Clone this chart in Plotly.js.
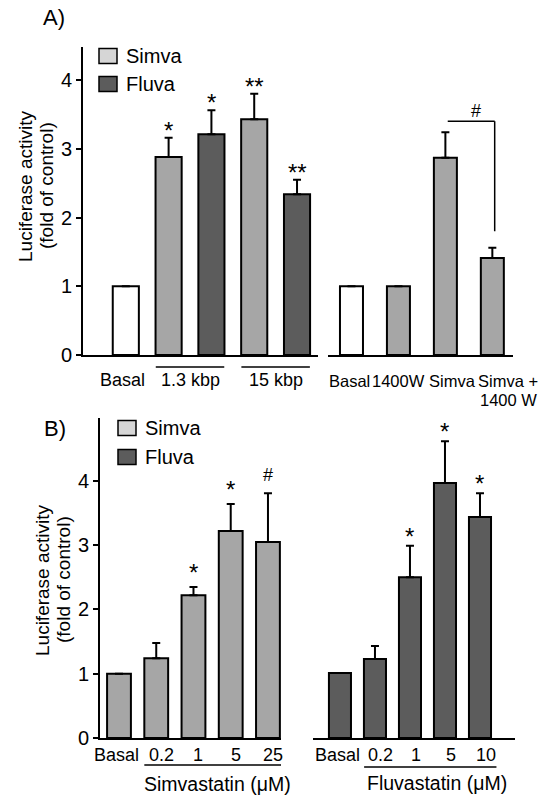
<!DOCTYPE html>
<html><head><meta charset="utf-8">
<script src="https://cdn.plot.ly/plotly-3.0.1.min.js"></script>
<style>html,body{margin:0;padding:0;background:#fff}</style>
</head><body><div id="chart" style="width:542px;height:797px"></div>
<script>
// ---------- data ----------
const aLeftCats = ["Basal", "1.3 kbp Simva", "1.3 kbp Fluva", "15 kbp Simva", "15 kbp Fluva"];
const aBasalCats = ["Basal"];
const aBasalVals = [1.0];
const aSimvaCats = ["1.3 kbp Simva", "15 kbp Simva"];
const aSimvaVals = [2.88, 3.43];
const aSimvaErr = [0.28, 0.37];
const aSimvaMarks = ["*", "**"];
const aFluvaCats = ["1.3 kbp Fluva", "15 kbp Fluva"];
const aFluvaVals = [3.21, 2.34];
const aFluvaErr = [0.35, 0.21];
const aFluvaMarks = ["*", "**"];
const aGroupLabels = ["Basal", "1.3 kbp", "15 kbp"];
const aGroupPos = [0, 1.5, 3.5];

const aRightCats = ["Basal", "1400W", "Simva", "Simva + 1400 W"];
const aRightVals = [1.0, 1.0, 2.87, 1.41];
const aRightErr = [0, 0, 0.37, 0.15];
const aRightLabels = ["Basal", "1400W", "Simva", "Simva +"];

const bSimCats = ["Basal", "0.2", "1", "5", "25"];
const bSimVals = [1.0, 1.24, 2.22, 3.22, 3.05];
const bSimErr = [0, 0.24, 0.13, 0.42, 0.76];
const bSimMarks = ["", "", "*", "*", "#"];

const bFluCats = ["Basal", "0.2", "1", "5", "10"];
const bFluVals = [1.01, 1.23, 2.50, 3.97, 3.44];
const bFluErr = [0, 0.20, 0.49, 0.65, 0.37];
const bFluMarks = ["", "", "*", "*", "*"];

const yTicks = [0, 1, 2, 3, 4];

// ---------- style ----------
const FONT = "Liberation Sans, Arial, sans-serif";
const SIMVA = "#a6a6a6", FLUVA = "#5c5c5c", LEG_SIMVA = "#d6d6d6";
const W = 542, H = 797;
const px = x => x / W, py = y => 1 - y / H;

function bars(x, y, err, color, xa, ya, width) {
  return {
    type: "bar", x: x, y: y, xaxis: xa, yaxis: ya, width: width,
    marker: {color: color, line: {color: "#000", width: 2}},
    error_y: {type: "data", symmetric: false, array: err, arrayminus: err.map(() => 0),
              color: "#000", thickness: 2, width: 4},
    showlegend: false, hoverinfo: "skip"
  };
}

const traces = [
  bars(aBasalCats, aBasalVals, [0], "#ffffff", "x", "y", 0.61),
  bars(aSimvaCats, aSimvaVals, aSimvaErr, SIMVA, "x", "y", 0.61),
  bars(aFluvaCats, aFluvaVals, aFluvaErr, FLUVA, "x", "y", 0.61),
  bars(aRightCats.slice(0, 1), aRightVals.slice(0, 1), aRightErr.slice(0, 1), "#ffffff", "x2", "y2", 0.49),
  bars(aRightCats.slice(1), aRightVals.slice(1), aRightErr.slice(1), SIMVA, "x2", "y2", 0.49),
  bars(bSimCats, bSimVals, bSimErr, SIMVA, "x3", "y3", 0.64),
  bars(bFluCats, bFluVals, bFluErr, FLUVA, "x4", "y4", 0.63)
];

const ann = [];
const shapes = [];
function txt(text, x, y, opts) {
  ann.push(Object.assign({text: text, x: x, y: y, xref: "paper", yref: "paper", showarrow: false,
    font: {family: FONT, size: 18, color: "#000"}, xanchor: "center", yanchor: "middle"}, opts || {}));
}
function marks(allCats, cats, vals, errs, labels, xr, yr, lift) {
  labels.forEach((m, i) => {
    if (!m) return;
    ann.push({text: m, x: allCats.indexOf(cats[i]), y: vals[i] + errs[i], xref: xr, yref: yr, showarrow: false,
      xanchor: "center", yanchor: "bottom", yshift: (m === "#" ? -1 : -8) + lift,
      font: {family: FONT, size: m === "#" ? 18 : 24, color: "#000"}});
  });
}

// panel labels
txt("A)", px(54), py(17), {font: {family: FONT, size: 22, color: "#000"}});
txt("B)", px(55), py(428), {font: {family: FONT, size: 22, color: "#000"}});
// y titles
[[25, 46, 186], [42, 63, 580]].forEach(([x1, x2, yc]) => {
  txt("Luciferase activity", px(x1), py(yc), {textangle: -90, font: {family: FONT, size: 19, color: "#000"}});
  txt("(fold of control)", px(x2), py(yc), {textangle: -90, font: {family: FONT, size: 19, color: "#000"}});
});
// legends
function legend(x0, ys, names, colors) {
  names.forEach((n, i) => {
    shapes.push({type: "rect", xref: "paper", yref: "paper", x0: px(x0), x1: px(x0 + 18),
      y0: py(ys[i] + 7.5), y1: py(ys[i] - 7.5), fillcolor: colors[i], line: {color: "#000", width: 1.5}});
    txt(n, px(x0 + 25), py(ys[i]), {xanchor: "left", font: {family: FONT, size: 20, color: "#000"}});
  });
}
legend(99, [56, 84], ["Simva", "Fluva"], [LEG_SIMVA, FLUVA]);
legend(118, [428, 457], ["Simva", "Fluva"], [LEG_SIMVA, FLUVA]);

// stars
marks(aLeftCats, aSimvaCats, aSimvaVals, aSimvaErr, aSimvaMarks, "x", "y", 0);
marks(aLeftCats, aFluvaCats, aFluvaVals, aFluvaErr, aFluvaMarks, "x", "y", 0);
marks(bSimCats, bSimCats, bSimVals, bSimErr, bSimMarks, "x3", "y3", 7);
marks(bFluCats, bFluCats, bFluVals, bFluErr, bFluMarks, "x4", "y4", 2);

// panel A left x labels + underlines
aGroupLabels.forEach((g, i) => {
  ann.push({text: g, x: aGroupPos[i], y: py(380), xref: "x", yref: "paper", showarrow: false,
    xanchor: "center", yanchor: "middle", xshift: i === 0 ? -3 : 0, font: {family: FONT, size: 18, color: "#000"}});
});
[[0.7, 2.3], [2.7, 4.3]].forEach(([a, b]) => {
  shapes.push({type: "line", xref: "x", yref: "paper", x0: a, x1: b, y0: py(367), y1: py(367),
    line: {color: "#000", width: 1.5}});
});
// panel A right labels
aRightLabels.forEach((l, i) => {
  ann.push({text: l, x: i, y: py(381), xref: "x2", yref: "paper", showarrow: false,
    xanchor: "center", yanchor: "middle", xshift: [-2, 0, 7, 16][i],
    font: {family: FONT, size: 16.5, color: "#000"}});
});
ann.push({text: "1400 W", x: 3, y: py(400), xref: "x2", yref: "paper", showarrow: false,
  xanchor: "center", yanchor: "middle", xshift: 16, font: {family: FONT, size: 16.5, color: "#000"}});
// bracket #
const brY = aRightVals[2] + aRightErr[2] + 0.16;
shapes.push({type: "line", xref: "x2", yref: "y2", x0: 2.05, x1: 3.05, y0: brY, y1: brY, line: {color: "#000", width: 1.5}});
shapes.push({type: "line", xref: "x2", yref: "y2", x0: 3.05, x1: 3.05, y0: brY, y1: aRightVals[3] + aRightErr[3] + 0.24, line: {color: "#000", width: 1.5}});
ann.push({text: "#", x: 2.65, y: brY, xref: "x2", yref: "y2", showarrow: false, xanchor: "center",
  yanchor: "bottom", yshift: -2, font: {family: FONT, size: 18, color: "#000"}});

// panel B labels
bSimCats.forEach((c, i) => {
  ann.push({text: c, x: i, y: py(755), xref: "x3", yref: "paper", showarrow: false, xanchor: "center",
    yanchor: "middle", xshift: i === 0 ? -2 : 5, font: {family: FONT, size: 18, color: "#000"}});
});
bFluCats.forEach((c, i) => {
  ann.push({text: c, x: i, y: py(755), xref: "x4", yref: "paper", showarrow: false, xanchor: "center",
    yanchor: "middle", xshift: i === 0 ? -2 : 6, font: {family: FONT, size: 18, color: "#000"}});
});
shapes.push({type: "line", xref: "x3", yref: "paper", x0: 0.68, x1: 4.37, y0: py(765), y1: py(765), line: {color: "#000", width: 1.5}});
shapes.push({type: "line", xref: "x4", yref: "paper", x0: 0.69, x1: 4.47, y0: py(767), y1: py(767), line: {color: "#000", width: 1.5}});
ann.push({text: "Simvastatin (μM)", x: 2.5, y: py(784), xref: "x3", yref: "paper", showarrow: false,
  xanchor: "center", yanchor: "middle", xshift: 5, font: {family: FONT, size: 19.5, color: "#000"}});
ann.push({text: "Fluvastatin (μM)", x: 2.5, y: py(783), xref: "x4", yref: "paper", showarrow: false,
  xanchor: "center", yanchor: "middle", xshift: 10, font: {family: FONT, size: 19.5, color: "#000"}});

// ---------- axes ----------
function xAx(dom, cats, range, anchor) {
  return {domain: dom, anchor: anchor, type: "category", categoryorder: "array", categoryarray: cats,
    range: range, showline: true, linewidth: 2, linecolor: "#000", showticklabels: false, ticks: "",
    showgrid: false, zeroline: false, fixedrange: true};
}
function yAx(dom, range, anchor, vis) {
  return {domain: dom, anchor: anchor, range: range, visible: vis, showline: true, linewidth: 2,
    linecolor: "#000", ticks: "outside", ticklen: 5, tickwidth: 2, tickcolor: "#000",
    tickvals: yTicks, tickfont: {family: FONT, size: 20, color: "#000"}, showgrid: false,
    zeroline: false, fixedrange: true};
}
const yA = [py(355), py(47)], yB = [py(738), py(418)];
const layout = {
  width: W, height: H, margin: {l: 0, r: 0, t: 0, b: 0}, paper_bgcolor: "#fff", plot_bgcolor: "rgba(0,0,0,0)",
  barmode: "overlay", showlegend: false, font: {family: FONT, color: "#000"},
  xaxis: xAx([px(83), px(318)], aLeftCats, [-1, 4.49], "y"),
  yaxis: yAx(yA, [0, 4.48], "x", true),
  xaxis2: xAx([px(328), px(513)], aRightCats, [-0.5, 3.44], "y2"),
  yaxis2: yAx(yA, [0, 4.48], "x2", false),
  xaxis3: xAx([px(100), px(281)], bSimCats, [-0.51, 4.35], "y3"),
  yaxis3: yAx(yB, [0, 4.98], "x3", true),
  xaxis4: xAx([px(313), px(515)], bFluCats, [-0.77, 5.0], "y4"),
  yaxis4: yAx(yB, [0, 4.98], "x4", false),
  annotations: ann, shapes: shapes
};
Plotly.newPlot("chart", traces, layout, {staticPlot: true, displayModeBar: false});
</script></body></html>
